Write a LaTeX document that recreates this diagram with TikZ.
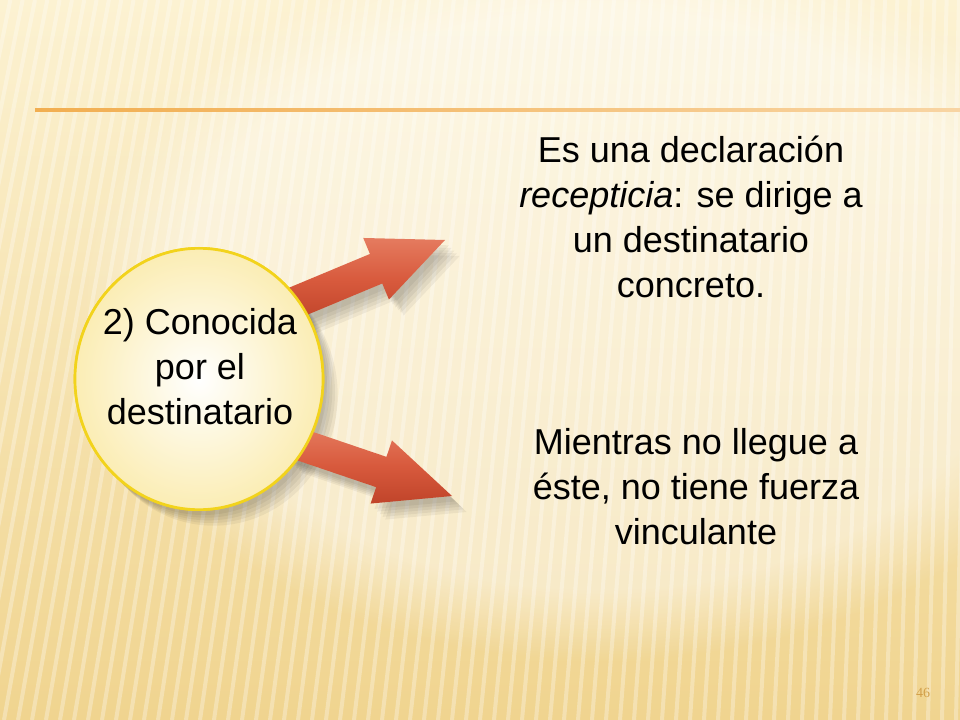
\documentclass[tikz,border=0pt]{standalone}
\usepackage{fontspec}
\setmainfont{Liberation Sans}
\newfontfamily\numfont{Liberation Serif}
\usetikzlibrary{shapes.geometric,calc,fadings}

\definecolor{fondoalto}{HTML}{FCF2D2}
\definecolor{fondobajo}{HTML}{F0D48F}
\definecolor{linea}{HTML}{EFA032}
\definecolor{borde}{HTML}{F2D31C}
\definecolor{crema}{HTML}{FBEDB4}
\definecolor{rojoclaro}{HTML}{E57B5F}
\definecolor{rojo}{HTML}{D85A3D}
\definecolor{rojooscuro}{HTML}{C0442A}
\definecolor{pagina}{HTML}{D2A04A}

\tikzset{
  texto/.style = {align=center, inner sep=0pt, text=black,
                  font=\fontsize{27}{33.75}\selectfont},
  raya/.style = {white, opacity=0.3, line width=3pt},
  burbuja/.style = {ellipse, draw=borde, line width=2pt,
                    inner color=white, outer color=crema,
                    minimum width=186pt, minimum height=196pt},
  capa/.style = {preaction={fill=black, opacity=0.05,
                 transform canvas={shift={(#1)}}}},
  sombra/.style = {capa={3pt,-4pt}, capa={5pt,-6pt}, capa={7pt,-8pt},
                   capa={9pt,-10pt}, capa={11pt,-12pt}}
}

% flecha gruesa de #1 a #2
\newcommand\flecha[2]{%
  \coordinate (cuello) at ($(#2)!56pt!(#1)$);
  \shade[top color=rojoclaro, bottom color=rojooscuro, middle color=rojo, sombra]
    ($(#1)!12pt!90:(#2)$) -- ($(cuello)!12pt!-90:(#1)$)
    -- ($(cuello)!25pt!-90:(#1)$) -- (#2)
    -- ($(cuello)!25pt!90:(#1)$) -- ($(cuello)!12pt!90:(#1)$)
    -- ($(#1)!12pt!-90:(#2)$) -- cycle;
}

\begin{document}
\begin{tikzpicture}[x=0.75pt, y=-0.75pt]
  \useasboundingbox (0,0) rectangle (960,720);
  % fondo
  \shade[top color=fondoalto, bottom color=fondobajo] (0,0) rectangle (960,720);
  \fill[white, opacity=0.45, path fading=circle with fuzzy edge 20 percent]
    (600,300) ellipse (520 and 360);
  \begin{scope}
    \clip (0,0) rectangle (960,720);
    \foreach \x in {-150,-136,...,960}
      \draw[raya] ({\x+130-0.12*\x},0) -- (\x,720);
  \end{scope}
  \shade[left color=linea!85, right color=linea!45] (35,109) rectangle (960,111.5);

  % burbuja y flechas
  \node[burbuja, sombra] (conoc) at (199,379) {};
  \coordinate (fin1) at (445,240);
  \coordinate (fin2) at (452,496);
  \coordinate (ini1) at ($(conoc.center)!0.88!(conoc.40)$);
  \coordinate (ini2) at ($(conoc.center)!0.88!(conoc.-34)$);
  \flecha{ini1}{fin1}
  \flecha{ini2}{fin2}
  % la burbuja otra vez, encima de las colas
  \node[burbuja] at (conoc) {};

  \node[texto] (conoctxt) at (200,367) {2) Conocida\\por el\\destinatario};
  \node[texto] (recep) at (691,217)
    {Es una declaración\\\textit{recepticia}: se dirige a\\un destinatario\\concreto.};
  \node[texto] (vinc) at (696,487)
    {Mientras no llegue a\\éste, no tiene fuerza\\vinculante};

  \node[font=\numfont\fontsize{10.5}{12}\selectfont, text=pagina] (pag) at (923,693) {46};
\end{tikzpicture}
\end{document}
